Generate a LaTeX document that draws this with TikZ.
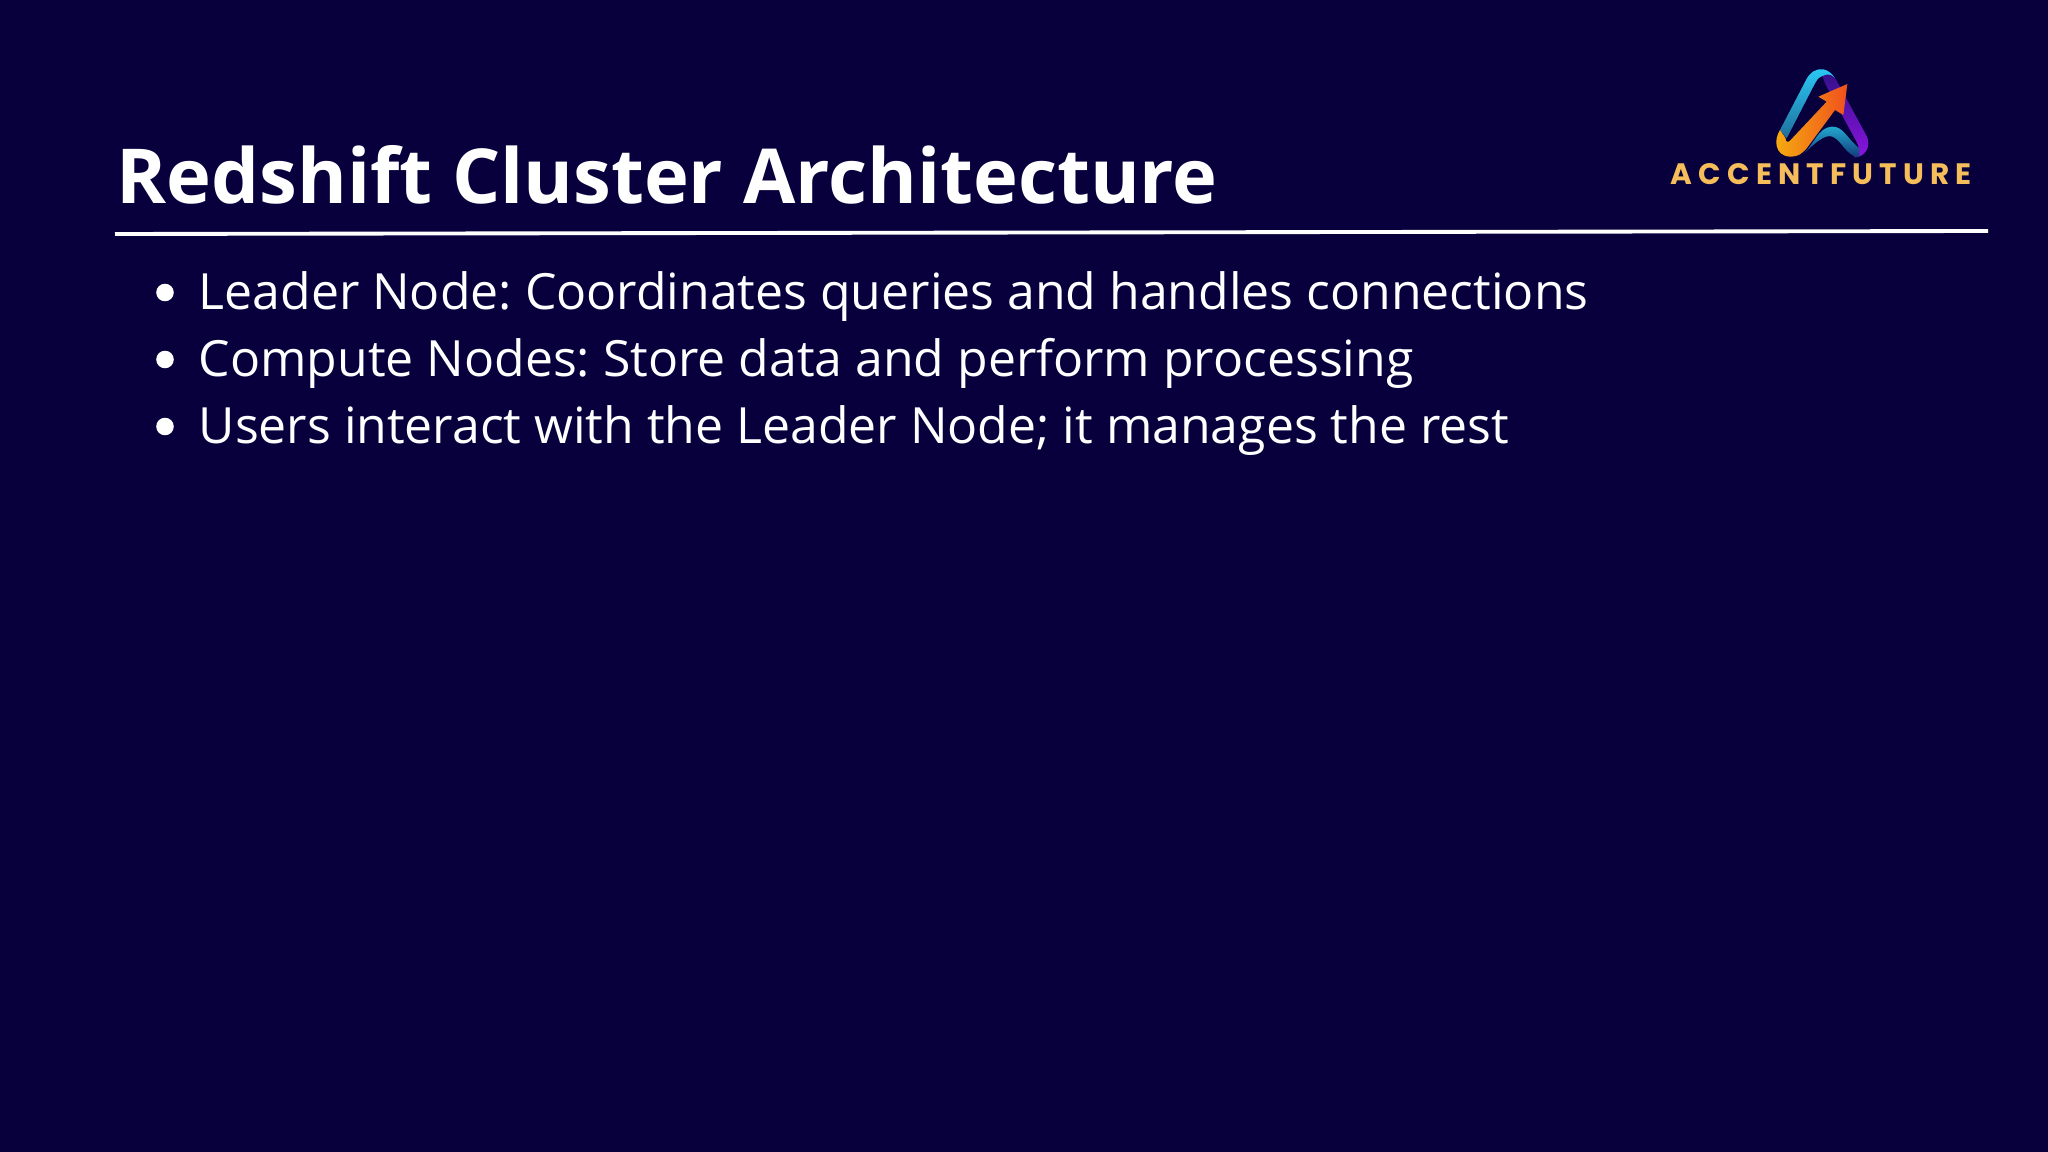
\documentclass[tikz,border=0pt]{standalone}
\usepackage{fontspec}
\usepackage{xcolor}
\usetikzlibrary{calc}
\setmainfont{Open Sans}
\newfontfamily\LogoFont[LetterSpace=21,Scale=1]{Poppins}
\frenchspacing
\definecolor{SlideBg}{HTML}{07003D}
\definecolor{LogoGold}{HTML}{F5BE5B}
\definecolor{LogoCyan}{HTML}{2AC8F5}
\definecolor{LogoSteel}{HTML}{1F6E9A}
\definecolor{LogoPlum}{HTML}{35108A}
\definecolor{LogoViolet}{HTML}{8A14E0}
\definecolor{LogoNavy}{HTML}{123A7A}
\definecolor{LogoAmber}{HTML}{F5AD0F}
\definecolor{LogoRed}{HTML}{F0501E}
\def\SlideWidth{2048}
\def\SlideHeight{1152}
\def\LineGap{67}
\tikzset{
	titletext/.style={anchor=base west,inner sep=0pt,text=white,font=\fontsize{21.57pt}{26pt}\selectfont\bfseries},
	linetext/.style={anchor=base west,inner sep=0pt,text=white,font=\fontsize{14.2pt}{16pt}\selectfont},
	bulletdot/.style={circle,fill=white,inner sep=0pt,minimum size=5pt},
	logotext/.style={anchor=base west,inner sep=0pt,text=LogoGold,font=\fontsize{8.4pt}{10pt}\LogoFont\bfseries},
}

\begin{document}
\begin{tikzpicture}[x=0.01cm,y=-0.01cm]
	\fill[SlideBg] (0,0) rectangle (\SlideWidth,\SlideHeight);
	\node[titletext] (title) at (116,204) {Redshift Cluster Architecture};
	\coordinate (ruleL) at (115,234);
	\coordinate (ruleR) at (1988,231);
	\draw[white,line width=1.1pt] (ruleL) -- (ruleR);
	%
	\node[linetext] (lineA) at (198,309.5) {Leader Node: Coordinates queries and handles connections};
	\node[linetext] (lineB) at ($(lineA.base west)+(0,\LineGap)$) {Compute Nodes: Store data and perform processing};
	\node[linetext] (lineC) at ($(lineB.base west)+(0,\LineGap)$) {Users interact with the Leader Node; it manages the rest};
	\foreach \l/\d in {lineA/dotA,lineB/dotB,lineC/dotC}{
		\node[bulletdot] (\d) at ($(\l.base west)+(-33,-17)$) {};
	}
	%
	\begin{scope}[shift={(1640,50)},scale=1/3]
		\path[top color=LogoCyan,bottom color=LogoSteel] (420,240) -- (497,92) .. controls (510,65) and (530,55) .. (550,58) .. controls (565,60) and (580,75) .. (585,85) -- (548,78) .. controls (535,82) and (530,90) .. (525,100) -- (440,265) -- cycle;
		\path[top color=LogoPlum,bottom color=LogoViolet] (548,78) .. controls (565,68) and (580,75) .. (590,92) -- (680,258) .. controls (695,290) and (675,322) .. (642,322) .. controls (655,305) and (660,295) .. (652,280) -- (560,110) .. controls (555,100) and (550,90) .. (548,78) -- cycle;
		\path[top color=LogoCyan!85!black,bottom color=LogoNavy] (490,312) .. controls (520,285) and (535,232) .. (575,230) .. controls (610,228) and (620,265) .. (658,295) -- (658,322) .. controls (625,320) and (610,285) .. (590,268) .. controls (565,245) and (540,265) .. (490,312) -- cycle;
		\path[left color=LogoAmber,right color=LogoRed] (420,240) .. controls (400,270) and (405,318) .. (450,320) .. controls (480,320) and (490,305) .. (500,295) -- (585,180) -- (610,195) -- (622,102) -- (535,140) -- (560,155) -- (452,270) .. controls (445,280) and (435,275) .. (437,265) -- cycle;
	\end{scope}
	\node[logotext] (brand) at (1670,185) {ACCENTFUTURE};
\end{tikzpicture}
\end{document}
